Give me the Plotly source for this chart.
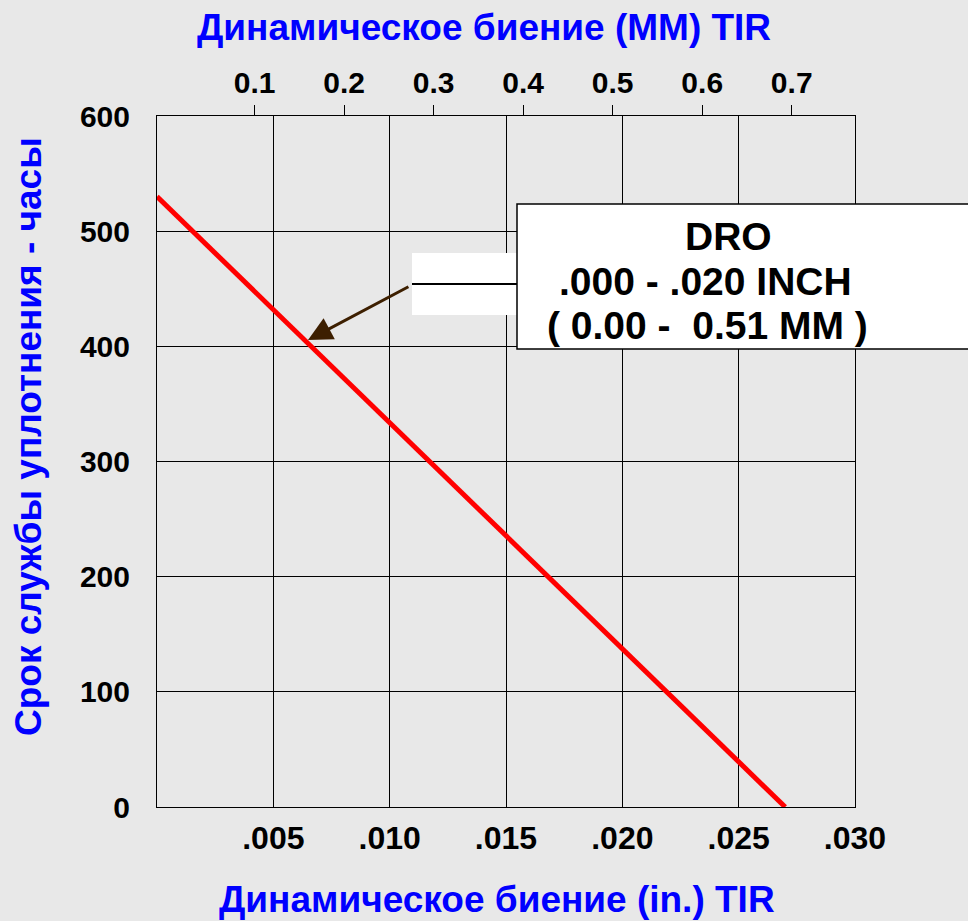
import plotly.graph_objects as go

# Data
runout_in = [0.0, 0.027]
seal_life_hours = [530, 0]

x_tickvals = [0.005, 0.010, 0.015, 0.020, 0.025, 0.030]
x_ticktext = [".005", ".010", ".015", ".020", ".025", ".030"]
y_tickvals = [0, 100, 200, 300, 400, 500, 600]
mm_tickvals = [0.1, 0.2, 0.3, 0.4, 0.5, 0.6, 0.7]
mm_ticktext = ["0.1", "0.2", "0.3", "0.4", "0.5", "0.6", "0.7"]

W, H = 968, 921
L, R, T, B = 157, 113, 116, 114
PW, PH = W - L - R, H - T - B

def px(x):
    return (x - L) / PW

def py(y):
    return (H - B - y) / PH

FONT = "Liberation Sans, Arial, sans-serif"
BG = "#e8e8e8"
BLUE = "#0000ff"

fig = go.Figure()
fig.add_trace(go.Scatter(
    x=runout_in, y=seal_life_hours, mode="lines",
    line=dict(color="#ff0000", width=5), showlegend=False, hoverinfo="skip",
))
# invisible trace for the top (mm) axis
fig.add_trace(go.Scatter(
    x=[0.1, 0.7], y=[0, 0], xaxis="x2", mode="markers",
    marker=dict(opacity=0), showlegend=False, hoverinfo="skip",
))

fig.update_layout(
    width=W, height=H,
    margin=dict(l=L, r=R, t=T, b=B),
    paper_bgcolor=BG, plot_bgcolor=BG,
    font=dict(family=FONT, color="black"),
    xaxis=dict(
        range=[0, 0.030], tickvals=x_tickvals, ticktext=x_ticktext,
        showgrid=True, gridcolor="black", gridwidth=1,
        showline=True, linecolor="black", linewidth=1, mirror=True,
        ticks="", ticklabelstandoff=3, zeroline=False,
        tickfont=dict(size=32, family=FONT, weight="bold", color="black"),
    ),
    xaxis2=dict(
        overlaying="x", side="top",
        range=[-0.00916, 0.7707], tickvals=mm_tickvals, ticktext=mm_ticktext,
        showgrid=False, zeroline=False, showline=False,
        ticks="outside", ticklen=10, tickcolor="black", tickwidth=1,
        tickfont=dict(size=30, family=FONT, weight="bold", color="black"),
    ),
    yaxis=dict(
        range=[0, 600], tickvals=y_tickvals,
        showgrid=True, gridcolor="black", gridwidth=1,
        showline=True, linecolor="black", linewidth=1, mirror=True,
        ticks="", ticklabelstandoff=20, zeroline=False,
        tickfont=dict(size=30, family=FONT, weight="bold", color="black"),
    ),
)

# Titles
fig.add_annotation(text="Динамическое биение (MM) TIR", xref="paper", yref="paper",
                   x=px(484), y=py(27), xanchor="center", yanchor="middle", showarrow=False,
                   font=dict(size=37, family=FONT, weight="bold", color=BLUE))
fig.add_annotation(text="Динамическое биение (in.) TIR", xref="paper", yref="paper",
                   x=px(497), y=py(899), xanchor="center", yanchor="middle", showarrow=False,
                   font=dict(size=37, family=FONT, weight="bold", color=BLUE))
fig.add_annotation(text="Срок службы уплотнения - часы", xref="paper", yref="paper",
                   x=px(28), y=py(437), xanchor="center", yanchor="middle", showarrow=False,
                   textangle=-90,
                   font=dict(size=37, family=FONT, weight="bold", color=BLUE))

# Callout boxes
fig.add_shape(type="rect", xref="paper", yref="paper",
              x0=px(412), x1=px(520), y0=py(315), y1=py(253),
              fillcolor="white", line=dict(width=0), layer="above")
fig.add_shape(type="line", xref="paper", yref="paper",
              x0=px(412), x1=px(520), y0=py(284), y1=py(284),
              line=dict(color="black", width=2), layer="above")
fig.add_shape(type="rect", xref="paper", yref="paper",
              x0=px(517), x1=px(975), y0=py(349), y1=py(204),
              fillcolor="white", line=dict(color="black", width=1.5), layer="above")

box_lines = ["DRO", ".000 - .020 INCH", "( 0.00 -\u00a0 0.51 MM )"]
box_cx = [728, 705, 707]
box_cy = [236, 281, 325]
for t, cx, cy in zip(box_lines, box_cx, box_cy):
    fig.add_annotation(text=t, xref="paper", yref="paper", x=px(cx), y=py(cy),
                       xanchor="center", yanchor="middle", showarrow=False,
                       font=dict(size=39, family=FONT, weight="bold", color="black"))

# Arrow
fig.add_annotation(x=0.00649, y=405.5, xref="x", yref="y",
                   ax=0.01087, ay=452.4, axref="x", ayref="y",
                   text="", showarrow=True, arrowhead=2, arrowsize=1.6,
                   arrowwidth=3, arrowcolor="#3d1f00")

fig.write_html(
    "out.html",
    config={"displayModeBar": False},
    post_script="document.body.style.margin='0';document.body.style.background='#e8e8e8';",
)
